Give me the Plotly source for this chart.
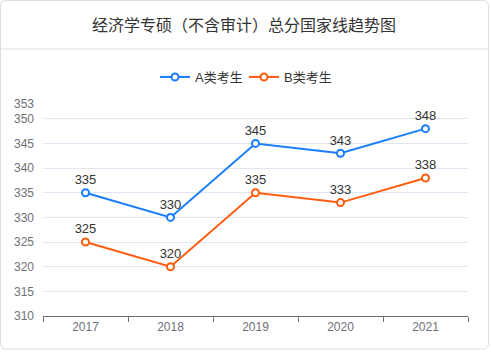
import plotly.graph_objects as go

years = ["2017", "2018", "2019", "2020", "2021"]
series_a = [335, 330, 345, 343, 348]
series_b = [325, 320, 335, 333, 338]
name_a = "A类考生"
name_b = "B类考生"
title_text = "经济学专硕（不含审计）总分国家线趋势图"
y_ticks = [310, 315, 320, 325, 330, 335, 340, 345, 350, 353]

W, H = 491, 352
L, R, T, B = 43, 468, 104, 316
FONT = "Liberation Sans, Noto Sans CJK SC, sans-serif"
BLUE = "#1a7dff"
ORANGE = "#ff5c0f"


def px(x):
    return (x - L) / (R - L)


def py(y):
    return (B - y) / (B - T)


fig = go.Figure()
for name, vals, col in [(name_a, series_a, BLUE), (name_b, series_b, ORANGE)]:
    fig.add_trace(go.Scatter(
        x=years, y=vals, name=name, mode="lines+markers+text",
        text=[str(v) for v in vals], textposition="top center",
        textfont=dict(size=13, color="#333", family=FONT),
        line=dict(color=col, width=2),
        marker=dict(symbol="circle", size=7, color="white",
                    line=dict(color=col, width=2)),
        cliponaxis=False,
    ))

# card outline with rounded corners
x0, x1, y0, y1, r = px(0.5), px(488.5), py(0.5), py(349), 6
rx = r / (R - L)
ry = r / (B - T)
path = (f"M {x0+rx},{y0} L {x1-rx},{y0} Q {x1},{y0} {x1},{y0-ry} "
        f"L {x1},{y1+ry} Q {x1},{y1} {x1-rx},{y1} L {x0+rx},{y1} "
        f"Q {x0},{y1} {x0},{y1+ry} L {x0},{y0-ry} Q {x0},{y0} {x0+rx},{y0} Z")
fig.add_shape(type="path", path=path, xref="paper", yref="paper",
              line=dict(color="#dcdcdc", width=1), layer="below")
fig.add_shape(type="line", xref="paper", yref="paper",
              x0=px(0.5), x1=px(488.5), y0=py(49), y1=py(49),
              line=dict(color="#dcdcdc", width=1))

fig.update_layout(
    width=W, height=H,
    margin=dict(l=L, r=W - R, t=T, b=H - B),
    paper_bgcolor="white", plot_bgcolor="white",
    font=dict(family=FONT, size=12, color="#6e7079"),
    title=dict(text=title_text, x=0.497, xanchor="center",
               y=1 - 25 / H, yanchor="middle", yref="container",
               font=dict(size=16, color="#333", family=FONT)),
    legend=dict(orientation="h", x=px(244), xanchor="center",
                y=py(77), yanchor="middle", yref="paper",
                font=dict(size=13, color="#333", family=FONT),
                itemwidth=30, tracegroupgap=0,
                entrywidth=44, entrywidthmode="pixels"),
    showlegend=True,
)
fig.update_xaxes(
    type="category", showgrid=False, showline=True, linecolor="#6e7079",
    ticks="outside", ticklen=5, tickcolor="#6e7079", tickson="boundaries",
    tickfont=dict(size=12, color="#6e7079"), range=[-0.5, 4.5],
)
fig.update_yaxes(
    range=[310, 353], tickvals=y_ticks, showgrid=True, gridcolor="#e0e6f1",
    gridwidth=1, zeroline=False, showline=False, ticks="",
    tickfont=dict(size=12, color="#6e7079"), ticklabelstandoff=8,
)

fig.write_html("out.html")
